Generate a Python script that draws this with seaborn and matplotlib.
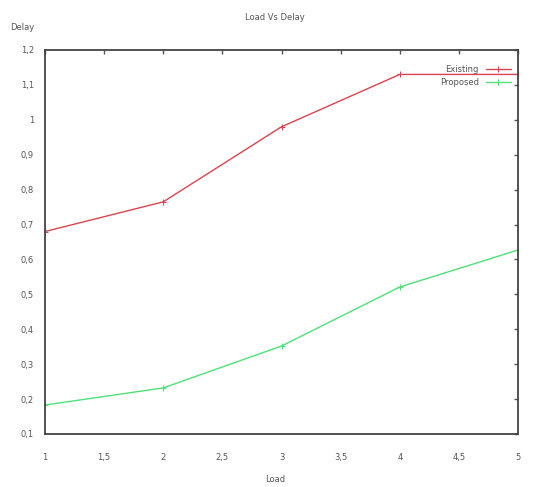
import pandas as pd
import seaborn as sns
import matplotlib.pyplot as plt
import matplotlib.ticker as mticker

load = [1, 2, 3, 4, 5]
existing = [0.68, 0.765, 0.98, 1.13, 1.13]
proposed = [0.183, 0.232, 0.352, 0.521, 0.627]

df = pd.DataFrame({
    "Load": load * 2,
    "Delay": existing + proposed,
    "Scheme": ["Existing"] * 5 + ["Proposed"] * 5,
})

sns.set_style("white")
plt.rcParams['font.family'] = ['DejaVu Sans']

fig = plt.figure(figsize=(5.5, 4.87), dpi=100)
ax = fig.add_axes([45 / 550, 1 - 434 / 487, 473 / 550, 384 / 487])

sns.lineplot(data=df, x="Load", y="Delay", hue="Scheme",
             palette={"Existing": "#d9444f", "Proposed": "#4fe07a"},
             marker="+", markersize=4, linewidth=1.0, ax=ax)
for ln in ax.lines:
    ln.set_markeredgecolor(ln.get_color())

ax.set_xlim(1, 5)
ax.set_ylim(0.1, 1.2)
ax.xaxis.set_major_locator(mticker.MultipleLocator(0.5))
ax.yaxis.set_major_locator(mticker.MultipleLocator(0.1))
fmt = lambda v, p: ("%g" % round(v, 2)).replace(".", ",")
ax.xaxis.set_major_formatter(mticker.FuncFormatter(fmt))
ax.yaxis.set_major_formatter(mticker.FuncFormatter(fmt))
ax.tick_params(direction="in", length=3, width=1, labelsize=6, colors="#555555",
               top=True, right=True)
ax.tick_params(axis="x", pad=14)
ax.tick_params(axis="y", pad=8)
for s in ax.spines.values():
    s.set_color("#444444")
    s.set_linewidth(1.3)

ax.set_xlabel("")
ax.set_ylabel("")
fig.text(0.5, 1 - 480 / 487, "Load", fontsize=6, color="#555555", ha="center", va="center")
fig.text(10 / 550, 1 - 28 / 487, "Delay", fontsize=6, color="#555555", va="center")
fig.text(0.5, 1 - 18 / 487, "Load Vs Delay", fontsize=6, color="#555555", ha="center", va="center")

leg = ax.legend(loc="upper right", frameon=False, fontsize=6, markerfirst=False,
                handlelength=3, labelcolor="#555555", bbox_to_anchor=(1.0, 0.98))
for h in leg.legend_handles:
    h.set_markeredgecolor(h.get_color())

plt.savefig("out.png", dpi=100)
